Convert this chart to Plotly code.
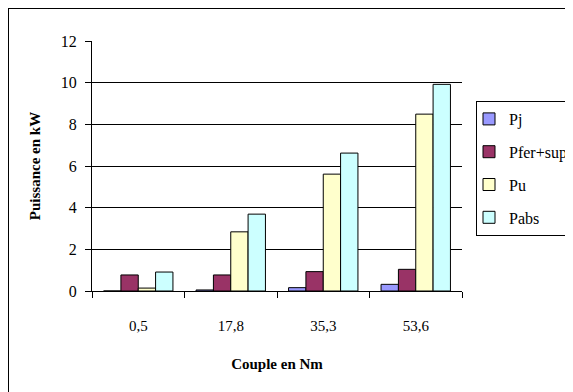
import plotly.graph_objects as go

categories = ["0,5", "17,8", "35,3", "53,6"]
pj = [0.0, 0.05, 0.16, 0.32]
pfer_sup = [0.77, 0.77, 0.93, 1.04]
pu = [0.14, 2.84, 5.61, 8.49]
pabs = [0.91, 3.69, 6.62, 9.92]
y_ticks = [0, 2, 4, 6, 8, 10, 12]

series = [
    ("Pj", pj, "#9999FF"),
    ("Pfer+sup", pfer_sup, "#993366"),
    ("Pu", pu, "#FFFFCC"),
    ("Pabs", pabs, "#CCFFFF"),
]

FONT = "Times New Roman, Liberation Serif, DejaVu Serif, serif"

fig = go.Figure()
for i, (name, vals, col) in enumerate(series):
    fig.add_trace(go.Bar(
        x=categories, y=vals, name=name, legendgroup=f"g{i}",
        marker=dict(color=col, line=dict(color="black", width=1)),
    ))

# page body has an 8px margin: figure coords = page coords - 8
W, H = 565, 384
L, T, R, B = 84, 33, 111, 101
PW, PH = W - L - R, H - T - B

fig.update_layout(
    width=W, height=H,
    margin=dict(l=L, r=R, t=T, b=B, autoexpand=False),
    paper_bgcolor="white", plot_bgcolor="white",
    font=dict(family=FONT, size=14, color="black"),
    barmode="group", bargap=0.25, bargroupgap=0,
    showlegend=True,
    legend=dict(
        x=(468 - L) / PW, y=(H - B - 93) / PH, xanchor="left", yanchor="top",
        bordercolor="black", borderwidth=1, bgcolor="white",
        font=dict(family=FONT, size=16, color="black"),
        tracegroupgap=9, traceorder="grouped", indentation=-8,
    ),
    xaxis=dict(
        type="category", showline=True, linecolor="black", linewidth=1,
        ticks="outside", tickson="boundaries", ticklen=6, tickcolor="black",
        showgrid=False, automargin=False, ticklabelstandoff=21,
        title=dict(text="<b>Couple en Nm</b>", font=dict(family=FONT, size=15), standoff=25),
        tickfont=dict(family=FONT, size=15),
    ),
    yaxis=dict(
        range=[0, 12], tickvals=y_ticks, showline=True, linecolor="black", linewidth=1,
        ticks="outside", ticklen=6, tickcolor="black", ticklabelstandoff=5,
        showgrid=True, gridcolor="black", gridwidth=1, zeroline=False, automargin=False,
        title=dict(text="<b>Puissance en kW</b>", font=dict(family=FONT, size=15), standoff=16),
        tickfont=dict(family=FONT, size=16),
    ),
    shapes=[dict(
        type="rect", xref="paper", yref="paper",
        x0=(0 - L) / PW, x1=2.0, y0=-1.0, y1=(H - B - 0) / PH,
        line=dict(color="black", width=2), fillcolor="rgba(0,0,0,0)", layer="below",
    )],
)

fig.write_html("out.html")
